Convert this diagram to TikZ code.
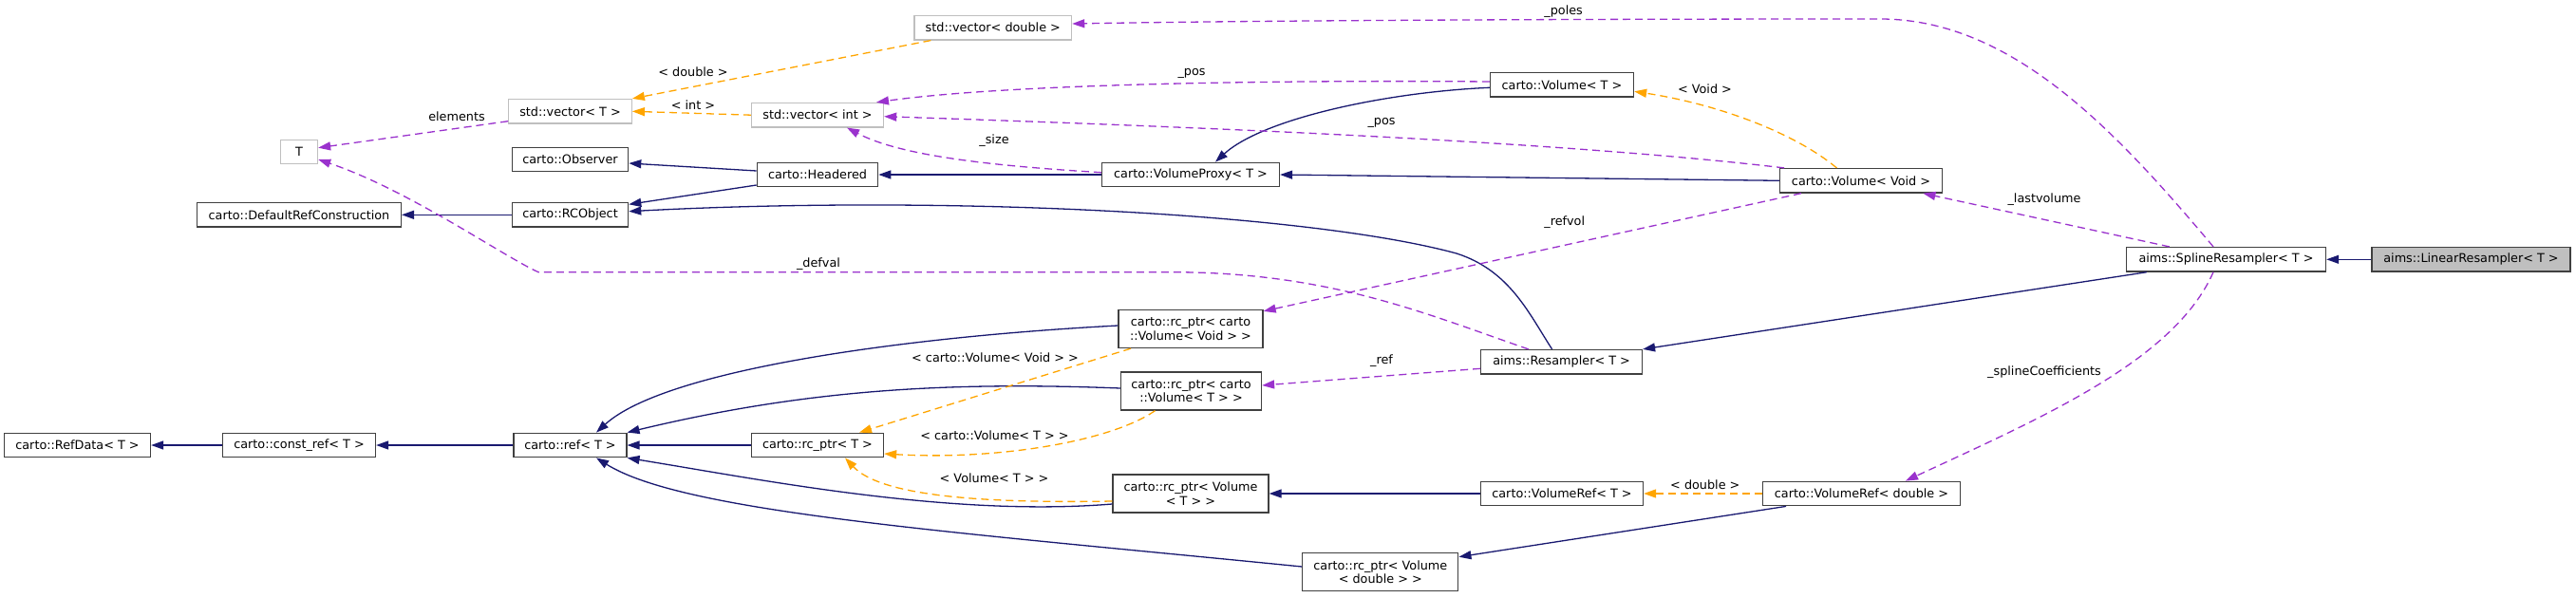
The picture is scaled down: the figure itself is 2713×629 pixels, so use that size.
\documentclass[tikz,border=0pt]{standalone}
\usepackage{fontspec}
\setmainfont{DejaVu Sans}
\usetikzlibrary{arrows.meta}
\definecolor{inh}{HTML}{191970}
\definecolor{tpl}{HTML}{FFA500}
\definecolor{use}{HTML}{9A32CD}
\definecolor{boxline}{HTML}{404040}
\definecolor{extline}{HTML}{BFBFBF}
\definecolor{curfill}{HTML}{BFBFBF}
\tikzset{
  cls/.style={draw=boxline, fill=white, line width=1.3pt, inner sep=0pt, minimum height=25.5pt, align=center, font=\fontsize{12.8}{14.5}\selectfont},
  cls2/.style={cls, minimum height=40pt},
  ext/.style={cls, draw=extline},
  cur/.style={cls, fill=curfill},
  lbl/.style={inner sep=0pt, font=\fontsize{12.8}{14.5}\selectfont},
  tip/.style={-{Triangle[length=13pt,width=9pt]}},
  inhedge/.style={tip, draw=inh, line width=1.3pt},
  tpledge/.style={tip, draw=tpl, line width=1.3pt, dash pattern=on 8pt off 5pt},
  useedge/.style={tip, draw=use, line width=1.3pt, dash pattern=on 8pt off 5pt}
}
\begin{document}
\begin{tikzpicture}[x=1pt,y=-1pt]
\useasboundingbox (0,0) rectangle (2713,629);
% nodes
\node[ext, minimum width=39pt] (T) at (315,160) {T};
\node[ext, minimum width=129.5pt] (vecT) at (600.5,117.3) {std::vector< T >};
\node[cls, minimum width=122.3pt] (Observer) at (600.5,168) {carto::Observer};
\node[cls, minimum width=214.7pt] (DRC) at (315,226.3) {carto::DefaultRefConstruction};
\node[cls, minimum width=122.3pt] (RCObject) at (600.5,226.3) {carto::RCObject};
\node[cls, minimum width=154pt] (RefData) at (81.5,469) {carto::RefData< T >};
\node[cls, minimum width=161pt] (constref) at (315,469) {carto::const\_ref< T >};
\node[cls, minimum width=118.8pt] (ref) at (600.5,469) {carto::ref< T >};
\node[ext, minimum width=165.6pt] (vecdouble) at (1045.8,29.2) {std::vector< double >};
\node[ext, minimum width=139pt] (vecint) at (861,121.2) {std::vector< int >};
\node[cls, minimum width=127.3pt] (Headered) at (861,184) {carto::Headered};
\node[cls, minimum width=187pt] (VolumeProxy) at (1254,184) {carto::VolumeProxy< T >};
\node[cls2, minimum width=152pt] (rcVoid) at (1254,346.5) {carto::rc\_ptr< carto\\::Volume< Void > >};
\node[cls2, minimum width=148pt] (rcVolT) at (1254.5,412) {carto::rc\_ptr< carto\\::Volume< T > >};
\node[cls, minimum width=139pt] (rcT) at (861,469) {carto::rc\_ptr< T >};
\node[cls2, minimum width=164pt] (rcVolumeT) at (1254,520) {carto::rc\_ptr< Volume\\< T > >};
\node[cls2, minimum width=164pt] (rcVolDouble) at (1453.8,602.5) {carto::rc\_ptr< Volume\\< double > >};
\node[cls, minimum width=151pt] (VolumeT) at (1645,89.3) {carto::Volume< T >};
\node[cls, minimum width=170.5pt] (VolumeVoid) at (1960,190.3) {carto::Volume< Void >};
\node[cls, minimum width=169.7pt] (Resampler) at (1644.6,381.3) {aims::Resampler< T >};
\node[cls, minimum width=171pt] (VolumeRefT) at (1645,520) {carto::VolumeRef< T >};
\node[cls, minimum width=207.6pt] (VolumeRefDouble) at (1960.5,520) {carto::VolumeRef< double >};
\node[cls, minimum width=210pt] (Spline) at (2344.5,273.3) {aims::SplineResampler< T >};
\node[cur, minimum width=209pt] (Linear) at (2602.5,273.3) {aims::LinearResampler< T >};
% inheritance / blue edges
\draw[inhedge] (Linear.west) -- (Spline.east);
\draw[inhedge] ([xshift=22pt]Spline.south west) -- (Resampler.north east);
\draw[inhedge] ([xshift=-10pt]Resampler.north) .. controls (1610,330) and (1590,285) .. (1534,267) .. controls (1380,225) and (1000,205) .. ([yshift=3.6pt]RCObject.east);
\draw[inhedge] ([yshift=-11pt]Headered.west) -- ([yshift=11pt]RCObject.east);
\draw[inhedge] ([yshift=4pt]Headered.west) -- ([yshift=-4pt]Observer.east);
\draw[inhedge] (VolumeProxy.west) -- (Headered.east);
\draw[inhedge] ([yshift=-3pt]VolumeT.west) .. controls (1460,97) and (1330,125) .. ([xshift=26pt]VolumeProxy.north);
\draw[inhedge] (VolumeVoid.west) -- (VolumeProxy.east);
\draw[inhedge] (RCObject.west) -- (DRC.east);
\draw[inhedge] (constref.west) -- (RefData.east);
\draw[inhedge] (ref.west) -- (constref.east);
\draw[inhedge] (rcT.west) -- (ref.east);
\draw[inhedge] ([yshift=3.5pt]rcVoid.west) .. controls (950,355) and (700,390) .. ([xshift=27.5pt]ref.north);
\draw[inhedge] ([yshift=3pt]rcVolT.west) .. controls (1000,402) and (850,410) .. (ref.north east);
\draw[inhedge] ([yshift=-11pt]rcVolumeT.west) .. controls (1000,545) and (800,505) .. (ref.south east);
\draw[inhedge] ([yshift=5.5pt]rcVolDouble.west) .. controls (1000,560) and (720,540) .. ([xshift=27.5pt]ref.south);
\draw[inhedge] (VolumeRefT.west) -- (rcVolumeT.east);
\draw[inhedge] ([xshift=25pt]VolumeRefDouble.south west) -- ([yshift=15.8pt]rcVolDouble.east);
% template instance / orange edges
\draw[tpledge] ([xshift=18pt]vecdouble.south west) -- (vecT.north east);
\draw[tpledge] (vecint.west) -- (vecT.east);
\draw[tpledge] ([xshift=-25.6pt]VolumeVoid.north) .. controls (1890,140) and (1810,110) .. ([yshift=-7pt]VolumeT.east);
\draw[tpledge] ([xshift=-63pt]rcVoid.south) -- ([xshift=44pt]rcT.north);
\draw[tpledge] ([xshift=-38pt]rcVolT.south) .. controls (1170,465) and (1050,485) .. ([yshift=-9pt]rcT.east);
\draw[tpledge] ([yshift=-8pt]rcVolumeT.west) .. controls (1050,530) and (930,525) .. ([xshift=29pt]rcT.south);
\draw[tpledge] (VolumeRefDouble.west) -- (VolumeRefT.east);
% usage / purple edges
\draw[useedge] ([yshift=-10.4pt]vecT.west) -- ([yshift=4.3pt]T.east);
\draw[useedge] ([xshift=-34.8pt]Resampler.north) .. controls (1500,330) and (1400,287) .. (1235,286.7) -- (567,286.7) .. controls (530,270) and (430,200) .. ([yshift=-8pt]T.east);
\draw[useedge] ([xshift=-13.5pt]Spline.north) .. controls (2230,140) and (2120,20) .. (1980,20) .. controls (1600,20) and (1300,22) .. ([yshift=4.2pt]vecdouble.east);
\draw[useedge] ([yshift=3.3pt]VolumeT.west) .. controls (1300,84) and (1050,90) .. ([xshift=62pt]vecint.north);
\draw[useedge] ([xshift=5pt]VolumeVoid.north west) .. controls (1650,150) and (1300,135) .. ([yshift=-1.5pt]vecint.east);
\draw[useedge] ([yshift=2.3pt]VolumeProxy.west) .. controls (1050,175) and (950,165) .. ([xshift=31pt]vecint.south);
\draw[useedge] ([xshift=22.8pt]VolumeVoid.south west) -- ([yshift=-2pt]rcVoid.north east);
\draw[useedge] ([xshift=-59.8pt]Spline.north) -- ([xshift=-20.5pt]VolumeVoid.south east);
\draw[useedge] ([yshift=-7pt]Resampler.west) -- ([yshift=6pt]rcVolT.east);
\draw[useedge] ([xshift=-13.5pt]Spline.south) .. controls (2290,380) and (2150,440) .. ([xshift=46.5pt]VolumeRefDouble.north);
% labels
\node[lbl] (l1) at (481,123) {elements};
\node[lbl] (l2) at (730,76) {< double >};
\node[lbl] (l3) at (730,111) {< int >};
\node[lbl] (l4) at (1255,77) {\_pos};
\node[lbl] (l5) at (1047,148) {\_size};
\node[lbl] (l6) at (862,278) {\_defval};
\node[lbl] (l7) at (1048,377) {< carto::Volume< Void > >};
\node[lbl] (l8) at (1047.5,459) {< carto::Volume< T > >};
\node[lbl] (l9) at (1047,504) {< Volume< T > >};
\node[lbl] (l10) at (1646.6,12) {\_poles};
\node[lbl] (l11) at (1795.5,94) {< Void >};
\node[lbl] (l12) at (1455,129) {\_pos};
\node[lbl] (l13) at (1647.7,234) {\_refvol};
\node[lbl] (l14) at (1455,380) {\_ref};
\node[lbl] (l15) at (1795.8,511) {< double >};
\node[lbl] (l16) at (2153,210) {\_lastvolume};
\node[lbl] (l17) at (2153,392) {\_splineCoefficients};
\end{tikzpicture}
\end{document}
